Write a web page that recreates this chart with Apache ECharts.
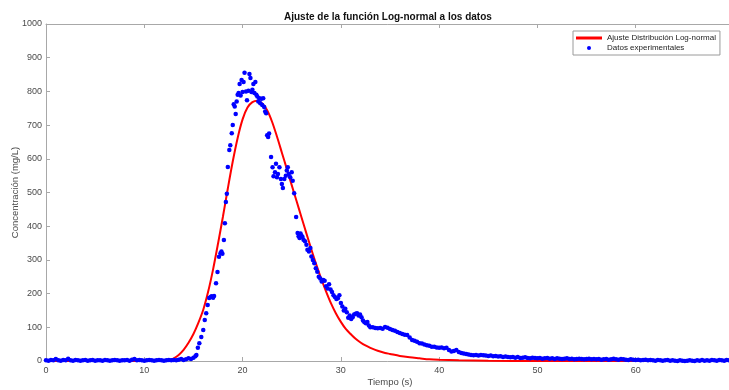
<!DOCTYPE html>
<html>
<head>
<meta charset="utf-8">
<script src="https://cdn.jsdelivr.net/npm/echarts@6/dist/echarts.min.js"></script>
<style>
  html, body { margin: 0; padding: 0; background: #ffffff; overflow: hidden; }
  #chart { width: 729px; height: 390px; }
</style>
</head>
<body>
<div id="chart"></div>
<script>
// Tiempo (s) y concentración (mg/L) de la curva ajustada Log-normal
const tiempoAjuste = [0, 10, 12, 12.5, 13, 13.5, 14, 14.5, 15, 15.5, 16, 16.5, 17, 17.5, 18, 18.5, 19, 19.5,
  20, 20.5, 21, 21.5, 22, 22.5, 23, 23.5, 24, 24.5, 25, 25.5, 26, 26.5, 27, 27.5, 28, 28.5, 29, 29.5,
  30, 30.5, 31, 31.5, 32, 32.5, 33, 33.5, 34, 34.5, 35, 36, 37, 38, 39, 40, 42, 45, 50, 60, 70];
const concAjuste = [0, 0, 0, 2, 8, 18, 33, 54, 80, 113, 152, 206, 272, 348, 428, 512, 592, 662,
  717, 752, 768, 772, 764, 744, 710, 666, 618, 570, 522, 474, 426, 378, 331, 286, 244, 206, 171, 141,
  116, 95, 80, 66, 55, 46, 39, 33, 28, 24, 21, 15, 11, 8, 5, 3.5, 2, 0.6, 0.2, 0, 0];

// Datos experimentales [tiempo, concentración], por tramos
const basalExp = [
  [0, 2], [0.25, 1], [0.5, 3], [0.75, 2], [1, 6], [1.25, 2], [1.5, 1], [1.75, 3], [2, 2], [2.25, 7],
  [2.5, 2], [2.75, 1], [3, 3], [3.25, 2], [3.5, 1], [3.75, 2], [4, 3], [4.25, 1], [4.5, 2], [4.75, 3],
  [5, 1], [5.25, 2], [5.5, 2], [5.75, 1], [6, 3], [6.25, 2], [6.5, 1], [6.75, 2], [7, 3], [7.25, 2],
  [7.5, 1], [7.75, 2], [8, 2], [8.25, 3], [8.5, 1], [8.75, 4], [9, 6], [9.25, 2], [9.5, 3], [9.75, 2],
  [10, 1], [10.25, 2], [10.5, 3], [10.75, 2], [11, 1], [11.25, 2], [11.5, 3], [11.75, 2], [12, 1],
  [12.25, 2], [12.5, 3], [12.75, 2], [13, 3], [13.25, 2], [13.5, 4], [13.75, 6], [14, 3], [14.25, 5],
  [14.5, 8], [14.75, 6], [15, 10]
];
const picoExp = [
  [15.2, 14], [15.3, 18], [15.45, 39], [15.6, 53], [15.8, 71], [16, 92], [16.15, 122], [16.3, 142],
  [16.45, 166], [16.6, 187], [16.75, 190], [16.85, 192], [17, 188], [17.1, 193], [17.3, 231],
  [17.45, 264], [17.6, 309], [17.75, 320], [17.85, 325], [17.95, 318], [18.1, 359], [18.2, 409],
  [18.3, 472], [18.4, 496], [18.5, 576], [18.65, 626], [18.75, 640], [18.9, 676], [19, 700],
  [19.1, 762], [19.2, 755], [19.3, 733], [19.4, 770], [19.5, 790], [19.6, 795], [19.7, 822],
  [19.8, 788], [19.9, 834], [20, 798], [20.1, 828], [20.2, 855], [20.35, 800], [20.45, 774],
  [20.6, 802], [20.7, 852], [20.8, 840], [20.9, 798], [21, 805], [21.1, 822], [21.2, 795],
  [21.3, 828], [21.4, 790], [21.5, 785], [21.6, 770], [21.7, 780], [21.8, 765], [21.9, 778],
  [22, 760], [22.1, 780], [22.2, 754], [22.3, 740], [22.4, 735], [22.5, 670], [22.6, 665],
  [22.7, 675], [22.9, 605], [23.05, 575], [23.15, 548], [23.3, 560], [23.4, 585], [23.5, 545],
  [23.6, 555], [23.75, 575], [23.9, 540], [24, 525], [24.1, 513], [24.25, 540], [24.4, 550],
  [24.5, 565], [24.6, 575], [24.7, 555], [24.85, 545], [25, 560], [25.1, 535], [25.25, 498],
  [25.45, 427], [25.6, 380], [25.7, 370], [25.8, 365], [25.9, 378], [26, 372], [26.1, 368],
  [26.2, 360], [26.35, 355], [26.5, 345], [26.6, 330], [26.75, 325], [26.9, 335], [27, 310],
  [27.15, 300], [27.3, 290], [27.45, 275], [27.6, 265], [27.75, 250], [27.9, 245], [28.05, 236],
  [28.2, 240], [28.35, 238], [28.5, 222], [28.65, 215], [28.8, 228], [28.95, 212], [29.1, 205],
  [29.25, 195], [29.4, 190], [29.55, 184], [29.7, 186], [29.85, 195], [30, 172], [30.15, 162],
  [30.3, 150], [30.45, 155], [30.6, 145], [30.75, 128], [30.9, 135], [31.05, 125], [31.2, 130],
  [31.35, 138], [31.5, 140], [31.65, 142], [31.8, 135], [31.95, 138], [32.1, 130], [32.25, 120],
  [32.4, 115], [32.55, 112], [32.7, 116], [32.85, 105], [33, 100]
];
const colaExp = [
  [33.25, 100], [33.5, 98], [33.75, 97], [34, 98], [34.25, 96], [34.5, 101], [34.75, 99], [35, 95],
  [35.25, 92], [35.5, 90], [35.75, 86], [36, 83], [36.25, 80], [36.5, 78], [36.75, 77], [37, 70],
  [37.25, 62], [37.5, 60], [37.75, 57], [38, 53], [38.25, 52], [38.5, 49], [38.75, 47], [39, 45],
  [39.25, 42], [39.5, 42], [39.75, 40], [40, 39], [40.25, 40], [40.5, 38], [40.75, 39], [41, 33],
  [41.25, 28], [41.5, 30], [41.75, 33], [42, 27], [42.25, 24], [42.5, 22], [42.75, 21], [43, 19],
  [43.25, 18], [43.5, 17], [43.75, 18], [44, 16], [44.25, 18], [44.5, 17], [44.75, 16], [45, 15],
  [45.25, 16], [45.5, 14], [45.75, 15], [46, 13], [46.25, 14], [46.5, 12], [46.75, 13], [47, 12],
  [47.25, 11], [47.5, 12], [47.75, 10], [48, 12], [48.25, 9], [48.5, 10], [48.75, 11], [49, 9],
  [49.25, 8], [49.5, 10], [49.75, 9], [50, 8], [50.25, 9], [50.5, 7], [50.75, 8], [51, 9],
  [51.25, 7], [51.5, 8], [51.75, 6], [52, 8], [52.25, 7], [52.5, 6], [52.75, 7], [53, 8],
  [53.25, 6], [53.5, 7], [53.75, 5], [54, 6], [54.25, 7], [54.5, 6], [54.75, 5], [55, 6],
  [55.25, 7], [55.5, 5], [55.75, 6], [56, 5], [56.25, 6], [56.5, 4], [56.75, 5], [57, 6],
  [57.25, 4], [57.5, 5], [57.75, 7], [58, 5], [58.25, 4], [58.5, 6], [58.75, 5], [59, 4],
  [59.25, 3], [59.5, 5], [59.75, 4], [60, 3], [60.25, 4], [60.5, 2], [60.75, 3], [61, 4],
  [61.25, 2], [61.5, 3], [61.75, 2], [62, 1], [62.25, 3], [62.5, 2], [62.75, 1], [63, 2],
  [63.25, 3], [63.5, 1], [63.75, 2], [64, 1], [64.25, 0], [64.5, 2], [64.75, 1], [65, 0],
  [65.25, 1], [65.5, 2], [65.75, 1], [66, 0], [66.25, 2], [66.5, 1], [66.75, 3], [67, 1],
  [67.25, 2], [67.5, 1], [67.75, 3], [68, 2], [68.25, 1], [68.5, 3], [68.75, 2], [69, 1],
  [69.25, 3], [69.5, 2], [69.75, 1], [70, 2]
];

const ticksX = [0, 10, 20, 30, 40, 50, 60, 70];
const ticksY = [0, 100, 200, 300, 400, 500, 600, 700, 800, 900, 1000];

const nombreAjuste = 'Ajuste Distribución Log-normal';
const nombreDatos = 'Datos experimentales';

const fuente = '"Liberation Sans", Arial, sans-serif';
const grisEje = '#a8a8a8';
const grisTexto = '#4a4a4a';

const ajuste = tiempoAjuste.map((t, i) => [t, concAjuste[i]]);
const datosExp = basalExp.concat(picoExp, colaExp);

const chart = echarts.init(document.getElementById('chart'), null, { renderer: 'canvas' });

const ejeX = {
  type: 'value',
  min: ticksX[0],
  max: ticksX[ticksX.length - 1],
  interval: 10,
  axisLine: { show: true, lineStyle: { color: grisEje, width: 1 } },
  axisTick: { show: true, inside: true, length: 4, lineStyle: { color: grisEje } },
  splitLine: { show: false }
};

chart.setOption({
  animation: false,
  backgroundColor: '#ffffff',
  title: {
    text: 'Ajuste de la función Log-normal a los datos',
    left: 279,
    top: 7,
    textStyle: { fontFamily: fuente, fontSize: 10, fontWeight: 'bold', color: '#111111' }
  },
  grid: { left: 46, right: -5, top: 24, bottom: 29, containLabel: false, outerBoundsMode: 'none' },
  legend: {
    orient: 'vertical',
    left: 573,
    top: 31,
    align: 'left',
    padding: [3, 4, 3, 3],
    itemGap: 2,
    itemWidth: 26,
    itemHeight: 4,
    symbolKeepAspect: true,
    borderColor: '#9a9a9a',
    borderWidth: 1,
    borderRadius: 0,
    backgroundColor: '#ffffff',
    textStyle: { fontFamily: fuente, fontSize: 8, color: '#222222' },
    data: [
      { name: nombreAjuste, icon: 'path://M0,0h26v3h-26z', itemStyle: { color: '#ff0000' } },
      { name: nombreDatos, icon: 'circle', itemStyle: { color: '#0000ff' } }
    ]
  },
  xAxis: [
    Object.assign({}, ejeX, {
      position: 'bottom',
      name: 'Tiempo (s)',
      nameLocation: 'middle',
      nameGap: 16,
      nameMoveOverlap: false,
      nameTextStyle: { fontFamily: fuente, fontSize: 9.5, color: grisTexto },
      axisLabel: { show: true, margin: 5, fontFamily: fuente, fontSize: 9, color: grisTexto,
        formatter: v => (ticksX.indexOf(v) >= 0 ? String(v) : '') }
    }),
    Object.assign({}, ejeX, {
      position: 'top',
      axisLabel: { show: false }
    })
  ],
  yAxis: {
    type: 'value',
    min: ticksY[0],
    max: ticksY[ticksY.length - 1],
    interval: 100,
    name: 'Concentración (mg/L)',
    nameLocation: 'middle',
    nameGap: 26,
    nameMoveOverlap: false,
    nameTextStyle: { fontFamily: fuente, fontSize: 9.5, color: grisTexto },
    axisLine: { show: true, lineStyle: { color: grisEje, width: 1 } },
    axisTick: { show: true, inside: true, length: 4, lineStyle: { color: grisEje } },
    axisLabel: { show: true, margin: 4, fontFamily: fuente, fontSize: 9, color: grisTexto,
      formatter: v => (ticksY.indexOf(v) >= 0 ? String(v) : '') },
    splitLine: { show: false }
  },
  series: [
    {
      name: nombreAjuste,
      type: 'line',
      xAxisIndex: 0,
      data: ajuste,
      symbol: 'none',
      smooth: 0.3,
      lineStyle: { color: '#ff0000', width: 2 },
      itemStyle: { color: '#ff0000' },
      z: 2
    },
    {
      name: nombreDatos,
      type: 'scatter',
      xAxisIndex: 0,
      data: datosExp,
      symbol: 'circle',
      symbolSize: 4.5,
      itemStyle: { color: '#0000ff', opacity: 1 },
      z: 3
    }
  ]
});
</script>
</body>
</html>
